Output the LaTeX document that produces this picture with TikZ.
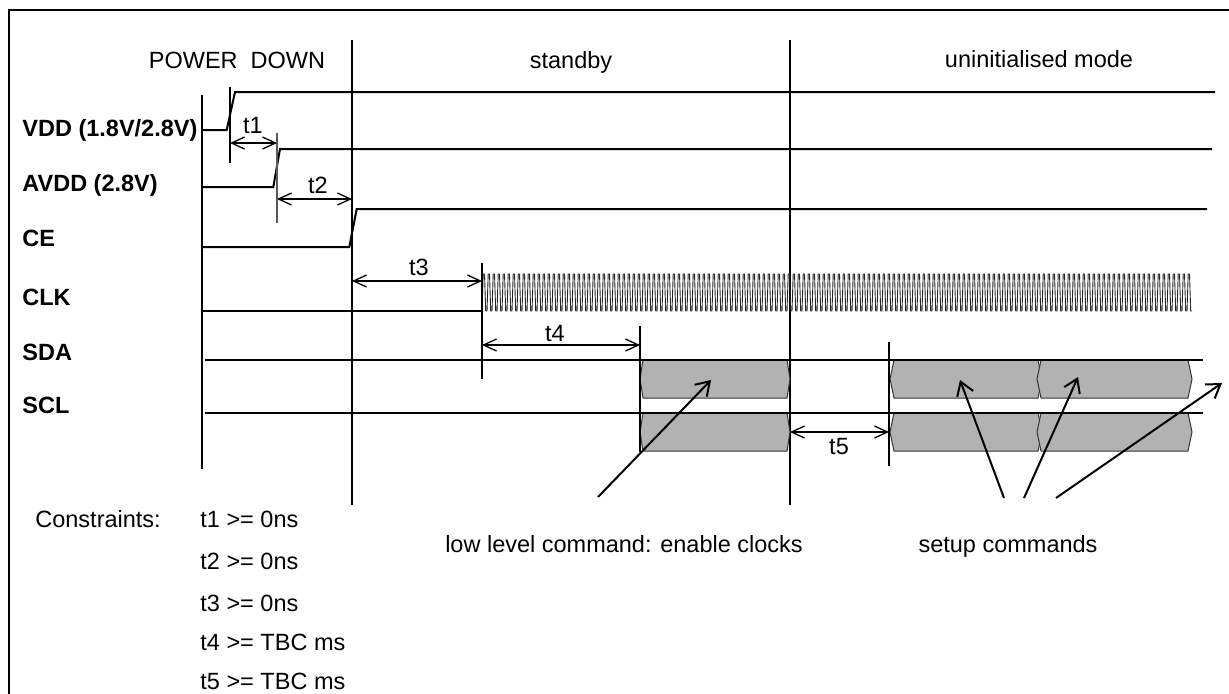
\documentclass[tikz,border=0pt]{standalone}
\usepackage{fontspec}
\setmainfont{Liberation Sans}
\usetikzlibrary{arrows.meta}

\tikzset{
  frame/.style={line width=1.25pt},
  sig/.style={line width=1pt, line join=miter},
  divline/.style={line width=1pt},
  markline/.style={line width=0.9pt},
  clkwave/.style={line width=0.45pt, black!85},
  bus/.style={draw=black!80, fill=black!30, line width=0.5pt},
  dim/.style={line width=0.65pt,
    {Straight Barb[length=6.5pt,width=6pt]}-{Straight Barb[length=6.5pt,width=6pt]}},
  pointer/.style={line width=1pt, -{Straight Barb[length=6.5pt,width=8.5pt]}},
  txt/.style={inner sep=0pt, anchor=base},
  siglabel/.style={inner sep=0pt, anchor=base west, font=\fontsize{11.75}{14}\selectfont\bfseries},
}

%% one bus cell: left x, right x, top y, point depth
\newcommand{\buscell}[4]{%
  \filldraw[bus] (#1,#3+19) -- (#1+#4,#3) -- (#2-#4,#3) -- (#2,#3+19)
    -- (#2-#4,#3+38) -- (#1+#4,#3+38) -- cycle;}

\begin{document}
\begin{tikzpicture}[x=0.5pt, y=-0.5pt, font=\fontsize{11.75}{14}\selectfont]
  \clip (0,0) rectangle (1229,693);

  %% --- frame ---
  \draw[frame] (9,720) -- (9,10) -- (1260,10);

  %% --- phases ---
  \draw[divline] (352,40) -- (352,505);
  \draw[divline] (790,40) -- (790,505);
  \node[txt] (pdown) at (237,68) {POWER\ \ DOWN};
  \node[txt] (stby) at (571,68) {standby};
  \node[txt] (uninit) at (1039,67) {uninitialised mode};

  %% --- signal names ---
  \node[siglabel] (lvdd)  at (22,136.5) {VDD (1.8V/2.8V)};
  \node[siglabel] (lavdd) at (22,191.5) {AVDD (2.8V)};
  \node[siglabel] (lce)   at (22,246.5) {CE};
  \node[siglabel] (lclk)  at (22,305)   {CLK};
  \node[siglabel] (lsda)  at (22,360)   {SDA};
  \node[siglabel] (lscl)  at (22,413)   {SCL};
  \draw[sig] (202,95) -- (202,469);

  %% --- bus cells (under the lines) ---
  \foreach \ytop in {360, 413} {
    \buscell{640}{790}{\ytop}{3}
    \buscell{890}{1042}{\ytop}{4}
    \buscell{1037}{1192}{\ytop}{4}
  }

  %% --- waveforms ---
  \draw[sig] (202,130) -- (226.7,130) -- (235,92) -- (1215,92);
  \draw[sig] (202,187) -- (273.3,187) -- (280,149) -- (1212,149);
  \draw[sig] (202,247) -- (349.3,247) -- (356.7,209) -- (1207,209);
  \draw[sig] (202,311) -- (482,311);
  \draw[clkwave] (482,311)
    \foreach \i in {0,...,141} { -- ++(1.2,-37) -- ++(1.3,0) -- ++(1.2,37) -- ++(1.3,0) };
  \draw[sig] (205,360) -- (1203,360);
  \draw[sig] (205,413) -- (1203,413);

  %% --- timing marks ---
  \draw[markline] (230,87) -- (230,163);
  \draw[markline, black!65] (277,133) -- (277,223);
  \draw[markline] (482,263) -- (482,379);
  \draw[markline] (640,326) -- (640,452);
  \draw[markline] (889,342) -- (889,466);

  \coordinate (a1) at (230,143);  \coordinate (b1) at (277,143);
  \coordinate (a2) at (277,199);  \coordinate (b2) at (352,199);
  \coordinate (a3) at (352,281);  \coordinate (b3) at (482,281);
  \coordinate (a4) at (482,345);  \coordinate (b4) at (640,345);
  \coordinate (a5) at (790,432);  \coordinate (b5) at (889,432);
  \foreach \k in {1,...,5} {
    \draw[dim] (a\k) -- (b\k);
  }
  \node[txt] (t1) at (253,133) {t1};
  \node[txt] (t2) at (318,193) {t2};
  \node[txt] (t3) at (419,275) {t3};
  \node[txt] (t4) at (555,341) {t4};
  \node[txt] (t5) at (839,454) {t5};

  %% --- commands ---
  \node[txt] (lowcmd) at (624,552) {low level command: enable clocks};
  \node[txt] (setup) at (1008,552) {setup commands};
  \coordinate (lowtail) at (598,497);  \coordinate (lowtip) at (711,380);
  \draw[pointer] (lowtail) -- (lowtip);
  \coordinate (s1tail) at (1004,498);  \coordinate (s1tip) at (960,380);
  \coordinate (s2tail) at (1024,498);  \coordinate (s2tip) at (1078,377);
  \coordinate (s3tail) at (1056,498);  \coordinate (s3tip) at (1222,383);
  \foreach \k in {1,2,3} {
    \draw[pointer] (s\k tail) -- (s\k tip);
  }

  %% --- constraints ---
  \node[txt, anchor=base west] (cons) at (35,527) {Constraints:};
  \foreach \k/\val/\y in {1/0ns/527, 2/0ns/569, 3/0ns/611, 4/TBC ms/650, 5/TBC ms/689} {
    \node[txt, anchor=base west] (c\k) at (200,\y) {t\k\ >= \val};
  }
\end{tikzpicture}
\end{document}
